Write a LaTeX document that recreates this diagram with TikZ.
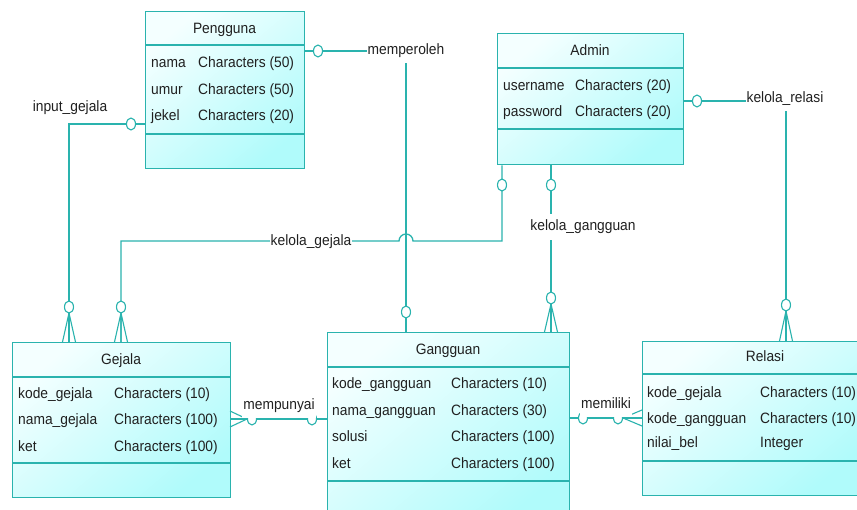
\documentclass[tikz,border=0pt]{standalone}
\usepackage{fontspec}
\setmainfont[FakeStretch=0.92]{Liberation Sans}
\usetikzlibrary{calc}

\definecolor{erline}{HTML}{2AB3AE}
\definecolor{erlight}{HTML}{F4FFFF}
\definecolor{erdark}{HTML}{B0FBFB}
\definecolor{ertext}{HTML}{202020}

\newcommand{\erfont}{\fontsize{15}{17}\selectfont}

\tikzset{
  entity/.style={rectangle, draw=erline, line width=1.3pt, inner sep=0pt,
    top color=erlight, bottom color=erdark, shading angle=40, anchor=north west},
  divider/.style={draw=erline, line width=1.3pt},
  conn/.style={draw=erline, line width=1.3pt},
  opt/.style={draw=erline, line width=1.1pt, fill=white},
  crow/.style={draw=erline, line width=1.1pt},
  attr/.style={anchor=base west, inner sep=0pt, text=ertext, font=\erfont},
  etitle/.style={anchor=base, inner sep=0pt, text=ertext, font=\erfont},
  rlabel/.style={anchor=base, fill=white, inner xsep=1pt, inner ysep=5pt, text=ertext, font=\erfont},
  ulabel/.style={anchor=base, fill=white, inner xsep=1pt, inner ysep=0pt,
    text height=12pt, text depth=8pt, text=ertext, font=\erfont}
}

\begin{document}
\begin{tikzpicture}[x=1pt, y=-1pt]
\useasboundingbox (0,0) rectangle (857,510);
\clip (0,0) rectangle (857,510);
\fill[white] (0,0) rectangle (857,510);

% ---------- entities ----------
\node[entity, minimum width=159pt, minimum height=157pt] (pengguna) at (145,11) {};
\draw[divider] (pengguna.west |- 0,45) -- (pengguna.east |- 0,45);
\draw[divider] (pengguna.west |- 0,134) -- (pengguna.east |- 0,134);
\node[etitle] (pengguna-t) at (224.5,34) {Pengguna};
\node[attr] (p1a) at (151,68) {nama};     \node[attr] (p1b) at (198,68) {Characters (50)};
\node[attr] (p2a) at (151,94.5) {umur};   \node[attr] (p2b) at (198,94.5) {Characters (50)};
\node[attr] (p3a) at (151,121) {jekel};   \node[attr] (p3b) at (198,121) {Characters (20)};

\node[entity, minimum width=186pt, minimum height=131pt] (admin) at (497,33) {};
\draw[divider] (admin.west |- 0,68) -- (admin.east |- 0,68);
\draw[divider] (admin.west |- 0,129) -- (admin.east |- 0,129);
\node[etitle] (admin-t) at (590,56) {Admin};
\node[attr] (a1a) at (503,91) {username}; \node[attr] (a1b) at (575,91) {Characters (20)};
\node[attr] (a2a) at (503,117) {password}; \node[attr] (a2b) at (575,117) {Characters (20)};

\node[entity, minimum width=218pt, minimum height=155pt] (gejala) at (12,342) {};
\draw[divider] (gejala.west |- 0,377) -- (gejala.east |- 0,377);
\draw[divider] (gejala.west |- 0,463) -- (gejala.east |- 0,463);
\node[etitle] (gejala-t) at (121,365) {Gejala};
\node[attr] (g1a) at (18,399) {kode\_gejala}; \node[attr] (g1b) at (114,399) {Characters (10)};
\node[attr] (g2a) at (18,425) {nama\_gejala}; \node[attr] (g2b) at (114,425) {Characters (100)};
\node[attr] (g3a) at (18,451) {ket};          \node[attr] (g3b) at (114,451) {Characters (100)};

\node[entity, minimum width=242pt, minimum height=190pt] (gangguan) at (327,332) {};
\draw[divider] (gangguan.west |- 0,367) -- (gangguan.east |- 0,367);
\draw[divider] (gangguan.west |- 0,481) -- (gangguan.east |- 0,481);
\node[etitle] (gangguan-t) at (448,355) {Gangguan};
\node[attr] (k1a) at (332,389) {kode\_gangguan}; \node[attr] (k1b) at (451,389) {Characters (10)};
\node[attr] (k2a) at (332,416) {nama\_gangguan}; \node[attr] (k2b) at (451,416) {Characters (30)};
\node[attr] (k3a) at (332,442) {solusi};         \node[attr] (k3b) at (451,442) {Characters (100)};
\node[attr] (k4a) at (332,468) {ket};            \node[attr] (k4b) at (451,468) {Characters (100)};

\node[entity, minimum width=222pt, minimum height=154pt] (relasi) at (642,341) {};
\draw[divider] (relasi.west |- 0,374) -- (relasi.east |- 0,374);
\draw[divider] (relasi.west |- 0,461) -- (relasi.east |- 0,461);
\node[etitle] (relasi-t) at (765,362) {Relasi};
\node[attr] (r1a) at (647,398) {kode\_gejala};   \node[attr] (r1b) at (760,398) {Characters (10)};
\node[attr] (r2a) at (647,424) {kode\_gangguan}; \node[attr] (r2b) at (760,424) {Characters (10)};
\node[attr] (r3a) at (647,448) {nilai\_bel};     \node[attr] (r3b) at (760,448) {Integer};

% ---------- input_gejala : Pengguna -- Gejala ----------
\coordinate (ig) at (69,124);
\draw[conn] (pengguna.west |- ig) -- (ig) -- (ig |- gejala.north);
\draw[opt] (131,124) ellipse[x radius=4.5pt, y radius=6pt];
\draw[crow] (69,313) -- (62.5,342) (69,313) -- (69,342) (69,313) -- (75.5,342);
\draw[opt] (69,307) ellipse[x radius=4.5pt, y radius=6pt];
\node[rlabel, fill=none] (l-ig) at (70,112) {input\_gejala};

% ---------- kelola_gejala : Admin -- Gejala ----------
\coordinate (kg1) at (502,241);
\coordinate (kg2) at (121,241);
\draw[conn] (admin.south -| kg1) -- (kg1) -- (413,241)
  arc[start angle=0, end angle=180, radius=7pt] -- (kg2) -- (kg2 |- gejala.north);
\draw[opt] (502,185) ellipse[x radius=4.5pt, y radius=6pt];
\draw[crow] (121,313) -- (114.5,342) (121,313) -- (121,342) (121,313) -- (127.5,342);
\draw[opt] (121,307) ellipse[x radius=4.5pt, y radius=6pt];
\node[rlabel] (l-kg) at (311,246) {kelola\_gejala};

% ---------- memperoleh : Pengguna -- Gangguan ----------
\coordinate (mp) at (406,51);
\draw[conn] (pengguna.east |- mp) -- (mp) -- (mp |- gangguan.north);
\draw[opt] (318,51) ellipse[x radius=4.5pt, y radius=6pt];
\draw[opt] (406,312) ellipse[x radius=4.5pt, y radius=6pt];
\node[rlabel] (l-mp) at (406,55) {memperoleh};

% ---------- kelola_gangguan : Admin -- Gangguan ----------
\coordinate (kk) at (551,241);
\draw[conn] (admin.south -| kk) -- (kk |- gangguan.north);
\draw[opt] (551,185) ellipse[x radius=4.5pt, y radius=6pt];
\draw[crow] (551,304) -- (544.5,332) (551,304) -- (551,332) (551,304) -- (557.5,332);
\draw[opt] (551,298) ellipse[x radius=4.5pt, y radius=6pt];
\node[rlabel, inner ysep=6pt] (l-kk) at (583,231) {kelola\_gangguan};

% ---------- kelola_relasi : Admin -- Relasi ----------
\coordinate (kr) at (786,101);
\draw[conn] (admin.east |- kr) -- (kr) -- (kr |- relasi.north);
\draw[opt] (697,101) ellipse[x radius=4.5pt, y radius=6pt];
\draw[crow] (786,311) -- (779.5,341) (786,311) -- (786,341) (786,311) -- (792.5,341);
\draw[opt] (786,305) ellipse[x radius=4.5pt, y radius=6pt];
\node[rlabel] (l-kr) at (785,103) {kelola\_relasi};

% ---------- mempunyai : Gejala -- Gangguan ----------
\coordinate (mu) at (279,419);
\draw[conn] (gejala.east |- mu) -- (gangguan.west |- mu);
\draw[crow] (247,419) -- (230,411) (247,419) -- (230,419) (247,419) -- (230,427);
\draw[opt] (252,419) ellipse[x radius=4.5pt, y radius=6pt];
\draw[opt] (312,419) ellipse[x radius=4.5pt, y radius=6pt];
\node[ulabel] (l-mu) at (279,410) {mempunyai};

% ---------- memiliki : Gangguan -- Relasi ----------
\coordinate (ml) at (606,418);
\draw[conn] (gangguan.east |- ml) -- (relasi.west |- ml);
\draw[crow] (623,418) -- (642,410) (623,418) -- (642,418) (623,418) -- (642,426);
\draw[opt] (583,418) ellipse[x radius=4.5pt, y radius=6pt];
\draw[opt] (618,418) ellipse[x radius=4.5pt, y radius=6pt];
\node[ulabel] (l-ml) at (606,409) {memiliki};
\end{tikzpicture}
\end{document}
